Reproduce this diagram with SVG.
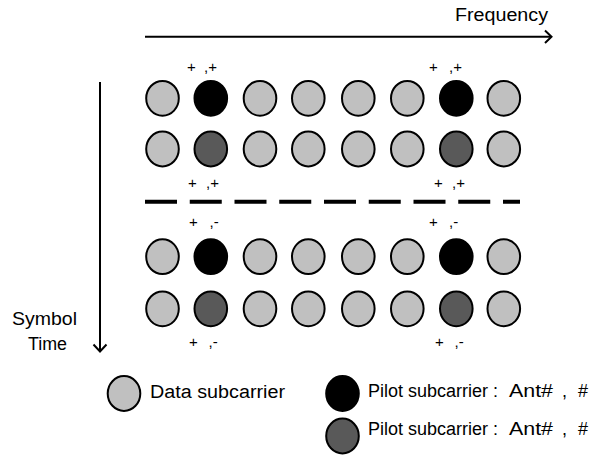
<svg xmlns="http://www.w3.org/2000/svg" width="595" height="457" viewBox="0 0 595 457">
<style>
text{font-family:"Liberation Sans",Arial,sans-serif;fill:#000}
.lbl{font-size:18px}
.sm{font-size:15px}
.d{fill:#c0c0c0;stroke:#000;stroke-width:2}
.p1{fill:#000;stroke:#000;stroke-width:2}
.p2{fill:#595959;stroke:#000;stroke-width:2}
.ax{stroke:#000;stroke-width:2;fill:none}
</style>
<defs>
<ellipse id="c" cx="0" cy="0" rx="16.3" ry="17.4"/>
</defs>
<rect width="595" height="457" fill="#fff"/>
<g id="axes">
<g id="freq-axis">
<line class="ax" x1="145" y1="36.7" x2="551" y2="36.7"/>
<polyline class="ax" points="545,30.5 551.5,36.7 545,43"/>
<text class="lbl" x="455" y="21" textLength="93" lengthAdjust="spacingAndGlyphs">Frequency</text>
</g>
<g id="time-axis">
<line class="ax" x1="100" y1="82" x2="100" y2="351"/>
<polyline class="ax" points="93.5,344.5 100,351.5 106.5,344.5"/>
<text class="lbl" x="12" y="325" textLength="65" lengthAdjust="spacingAndGlyphs">Symbol</text>
<text class="lbl" x="28" y="350" textLength="39" lengthAdjust="spacingAndGlyphs">Time</text>
</g>
</g>
<g id="separator">
<line x1="145" y1="201.7" x2="520" y2="201.7" stroke="#000" stroke-width="4" stroke-dasharray="32 12.75"/>
</g>
<g id="row1">
<use href="#c" class="d" x="162.5" y="98.3"/>
<use href="#c" class="p1" x="210.8" y="98.3"/>
<use href="#c" class="d" x="260" y="98.3"/>
<use href="#c" class="d" x="308.3" y="98.3"/>
<use href="#c" class="d" x="358.3" y="98.3"/>
<use href="#c" class="d" x="407.3" y="98.3"/>
<use href="#c" class="p1" x="456.3" y="98.3"/>
<use href="#c" class="d" x="503.8" y="98.3"/>
</g>
<g id="row2">
<use href="#c" class="d" x="162.5" y="149"/>
<use href="#c" class="p2" x="210.8" y="149"/>
<use href="#c" class="d" x="260" y="149"/>
<use href="#c" class="d" x="308.3" y="149"/>
<use href="#c" class="d" x="358.3" y="149"/>
<use href="#c" class="d" x="407.3" y="149"/>
<use href="#c" class="p2" x="456.3" y="149"/>
<use href="#c" class="d" x="503.8" y="149"/>
</g>
<g id="row3">
<use href="#c" class="d" x="162.5" y="256.7"/>
<use href="#c" class="p1" x="210.8" y="256.7"/>
<use href="#c" class="d" x="260" y="256.7"/>
<use href="#c" class="d" x="308.3" y="256.7"/>
<use href="#c" class="d" x="358.3" y="256.7"/>
<use href="#c" class="d" x="407.3" y="256.7"/>
<use href="#c" class="p1" x="456.3" y="256.7"/>
<use href="#c" class="d" x="503.8" y="256.7"/>
</g>
<g id="row4">
<use href="#c" class="d" x="162.5" y="308.8"/>
<use href="#c" class="p2" x="210.8" y="308.8"/>
<use href="#c" class="d" x="260" y="308.8"/>
<use href="#c" class="d" x="308.3" y="308.8"/>
<use href="#c" class="d" x="358.3" y="308.8"/>
<use href="#c" class="d" x="407.3" y="308.8"/>
<use href="#c" class="p2" x="456.3" y="308.8"/>
<use href="#c" class="d" x="503.8" y="308.8"/>
</g>
<g id="pilot-labels">
<text class="sm" y="71.5"><tspan x="187">+</tspan><tspan x="204">,+</tspan></text>
<text class="sm" y="71.5"><tspan x="429">+</tspan><tspan x="449">,+</tspan></text>
<text class="sm" y="187.5"><tspan x="188">+</tspan><tspan x="206">,+</tspan></text>
<text class="sm" y="187.5"><tspan x="434">+</tspan><tspan x="452">,+</tspan></text>
<text class="sm" y="226.5"><tspan x="189">+</tspan><tspan x="209.5">,-</tspan></text>
<text class="sm" y="226.5"><tspan x="429">+</tspan><tspan x="449">,-</tspan></text>
<text class="sm" y="346.5"><tspan x="189">+</tspan><tspan x="208.5">,-</tspan></text>
<text class="sm" y="346.5"><tspan x="435">+</tspan><tspan x="454.5">,-</tspan></text>
</g>
<g id="legend-data">
<use href="#c" class="d" x="124" y="393.5"/>
<text class="lbl" x="150" y="398" textLength="135" lengthAdjust="spacingAndGlyphs">Data subcarrier</text>
</g>
<g id="legend-pilot1">
<use href="#c" class="p1" x="342.5" y="393.5"/>
<text class="lbl" y="397"><tspan x="368" textLength="120" lengthAdjust="spacingAndGlyphs">Pilot subcarrier</tspan><tspan x="493">:</tspan><tspan x="509" textLength="44" lengthAdjust="spacingAndGlyphs">Ant#</tspan><tspan x="562">,</tspan><tspan x="578">#</tspan></text>
</g>
<g id="legend-pilot2">
<use href="#c" class="p2" x="342.5" y="436"/>
<text class="lbl" y="435"><tspan x="368" textLength="120" lengthAdjust="spacingAndGlyphs">Pilot subcarrier</tspan><tspan x="493">:</tspan><tspan x="509" textLength="44" lengthAdjust="spacingAndGlyphs">Ant#</tspan><tspan x="562">,</tspan><tspan x="578">#</tspan></text>
</g>
</svg>
